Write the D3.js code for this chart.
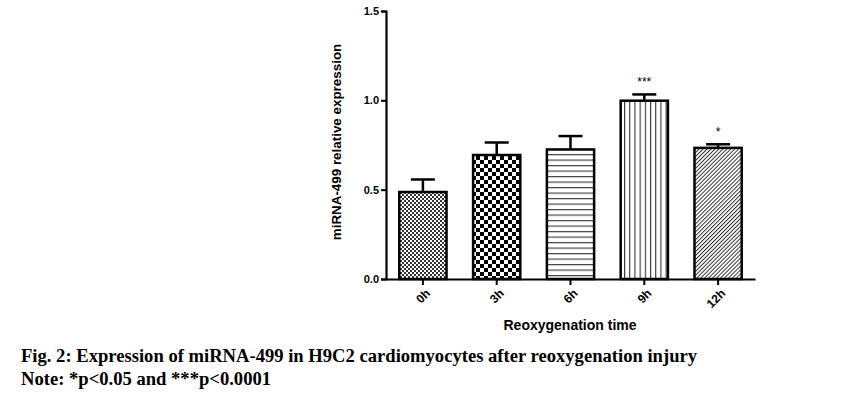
<!DOCTYPE html>
<html>
<head>
<meta charset="utf-8">
<script src="https://cdn.jsdelivr.net/npm/d3@7"></script>
<style>
  body { margin: 0; background: #fff; }
</style>
</head>
<body>
<div id="chart"></div>
<script>
// data
const times = ["0h", "3h", "6h", "9h", "12h"];
const means = [0.487, 0.694, 0.725, 0.998, 0.734];
const errs = [0.07, 0.07, 0.075, 0.035, 0.02];
const stars = ["", "", "", "***", "*"];
const yTicks = [0.0, 0.5, 1.0, 1.5];
const patterns = ["fineCheck", "check", "hlines", "vlines", "diag"];

let width = 857;
let height = 394;

let svg = d3.select("#chart").append("svg")
  .attr("width", width)
  .attr("height", height)
  .style("font-family", "Arial, 'Liberation Sans', sans-serif");

// fill patterns
let defs = svg.append("defs");

let p = defs.append("pattern").attr("id", "fineCheck")
  .attr("patternUnits", "userSpaceOnUse").attr("width", 4).attr("height", 4);
p.append("rect").attr("width", 4).attr("height", 4).attr("fill", "#fff");
p.append("rect").attr("width", 2).attr("height", 2).attr("fill", "#333");
p.append("rect").attr("x", 2).attr("y", 2).attr("width", 2).attr("height", 2).attr("fill", "#333");

p = defs.append("pattern").attr("id", "check")
  .attr("patternUnits", "userSpaceOnUse").attr("width", 8).attr("height", 8);
p.append("rect").attr("width", 8).attr("height", 8).attr("fill", "#fff");
p.append("rect").attr("width", 4).attr("height", 4).attr("fill", "#000");
p.append("rect").attr("x", 4).attr("y", 4).attr("width", 4).attr("height", 4).attr("fill", "#000");

p = defs.append("pattern").attr("id", "hlines")
  .attr("patternUnits", "userSpaceOnUse").attr("width", 6).attr("height", 5.5);
p.append("rect").attr("width", 6).attr("height", 5.5).attr("fill", "#fff");
p.append("rect").attr("y", 0).attr("width", 6).attr("height", 1.2).attr("fill", "#444");

p = defs.append("pattern").attr("id", "vlines")
  .attr("patternUnits", "userSpaceOnUse").attr("width", 5.2).attr("height", 6);
p.append("rect").attr("width", 5.2).attr("height", 6).attr("fill", "#fff");
p.append("rect").attr("x", 0).attr("width", 1.1).attr("height", 6).attr("fill", "#333");

p = defs.append("pattern").attr("id", "diag")
  .attr("patternUnits", "userSpaceOnUse").attr("width", 2.8).attr("height", 2.8)
  .attr("patternTransform", "rotate(45)");
p.append("rect").attr("width", 2.8).attr("height", 2.8).attr("fill", "#fff");
p.append("rect").attr("width", 1).attr("height", 2.8).attr("fill", "#333");

// scales
let x = d3.scaleBand()
  .domain(times)
  .range([386, 755])
  .paddingInner(0.36)
  .paddingOuter(0.18);

let y = d3.scaleLinear()
  .domain([0, 1.5])
  .range([279, 11]);

// bars
svg.append("g")
  .selectAll("rect")
  .data(times)
  .enter()
  .append("rect")
  .attr("x", d => x(d))
  .attr("y", (d, i) => y(means[i]))
  .attr("width", x.bandwidth())
  .attr("height", (d, i) => y(0) - y(means[i]))
  .attr("fill", (d, i) => "url(#" + patterns[i] + ")")
  .attr("stroke", "#000")
  .attr("stroke-width", 2.5);

// error bars
let eb = svg.append("g").attr("stroke", "#000").attr("stroke-width", 2.5);
times.forEach(function (d, i) {
  let cx = x(d) + x.bandwidth() / 2;
  eb.append("line")
    .attr("x1", cx).attr("x2", cx)
    .attr("y1", y(means[i])).attr("y2", y(means[i] + errs[i]));
  eb.append("line")
    .attr("x1", cx - 12).attr("x2", cx + 12)
    .attr("y1", y(means[i] + errs[i])).attr("y2", y(means[i] + errs[i]));
});

// significance stars
svg.append("g")
  .selectAll("text")
  .data(times)
  .enter()
  .append("text")
  .attr("x", d => x(d) + x.bandwidth() / 2)
  .attr("y", (d, i) => y(means[i] + errs[i]) - 8)
  .attr("text-anchor", "middle")
  .attr("font-size", 12)
  .text((d, i) => stars[i]);

// y axis
let yAxis = svg.append("g")
  .attr("transform", "translate(386,0)")
  .call(d3.axisLeft(y).tickValues(yTicks).tickFormat(d3.format(".1f")).tickSize(5).tickPadding(2));
yAxis.select(".domain").attr("stroke-width", 2.2);
yAxis.selectAll(".tick line").attr("stroke-width", 2);
yAxis.selectAll("text")
  .attr("font-size", 11).attr("font-weight", "bold")
  .attr("font-family", "Arial, 'Liberation Sans', sans-serif");

// x axis
let xAxis = svg.append("g")
  .attr("transform", "translate(0,279)")
  .call(d3.axisBottom(x).tickSize(6).tickSizeOuter(0));
xAxis.select(".domain").attr("stroke-width", 2.2);
xAxis.selectAll(".tick line").attr("stroke-width", 2);
xAxis.selectAll("text")
  .attr("font-size", 12).attr("font-weight", "bold")
  .attr("font-family", "Arial, 'Liberation Sans', sans-serif")
  .attr("text-anchor", "end")
  .attr("y", 0)
  .attr("dy", "0")
  .attr("transform", "translate(8,15) rotate(-45)");

// axis titles
svg.append("text")
  .attr("x", 570).attr("y", 330)
  .attr("text-anchor", "middle")
  .attr("font-size", 14).attr("font-weight", "bold")
  .text("Reoxygenation time");

svg.append("text")
  .attr("transform", "translate(341,142) rotate(-90)")
  .attr("text-anchor", "middle")
  .attr("font-size", 13.4).attr("font-weight", "bold")
  .text("miRNA-499 relative expression");

// caption
let cap = svg.append("g")
  .style("font-family", "'Liberation Serif', 'Times New Roman', serif")
  .attr("font-weight", "bold")
  .attr("font-size", 18.6);
cap.append("text").attr("x", 21).attr("y", 362)
  .text("Fig. 2: Expression of miRNA-499 in H9C2 cardiomyocytes after reoxygenation injury");
cap.append("text").attr("x", 21).attr("y", 385)
  .text("Note: *p<0.05 and ***p<0.0001");
</script>
</body>
</html>
